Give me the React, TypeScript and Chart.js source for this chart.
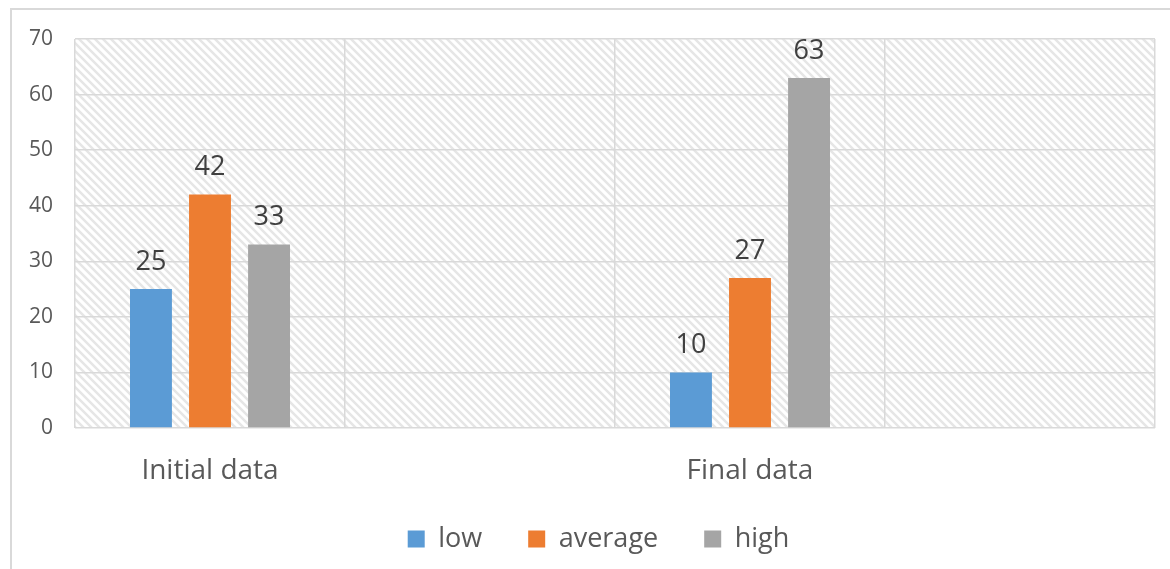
import React, { useEffect, useRef } from "react";
import { Chart, registerables } from "chart.js";

Chart.register(...registerables);

const categories = ["Initial data", "", "Final data", ""];
const lowValues = [25, null, 10, null];
const averageValues = [42, null, 27, null];
const highValues = [33, null, 63, null];
const yTicks = [0, 10, 20, 30, 40, 50, 60, 70];

const FONT = "'Open Sans', 'DejaVu Sans', sans-serif";

function makeHatch(): CanvasPattern | string {
  const c = document.createElement("canvas");
  const s = 8;
  c.width = s;
  c.height = s;
  const g = c.getContext("2d");
  if (!g) return "#ffffff";
  g.fillStyle = "#ffffff";
  g.fillRect(0, 0, s, s);
  g.strokeStyle = "#e6e6e6";
  g.lineWidth = 2.5;
  g.beginPath();
  g.moveTo(-s, 0);
  g.lineTo(s, 2 * s);
  g.moveTo(0, 0);
  g.lineTo(s, s);
  g.moveTo(0, -s);
  g.lineTo(2 * s, s);
  g.stroke();
  const p = g.createPattern(c, "repeat");
  return p || "#ffffff";
}

const hatchPlugin = {
  id: "hatchBg",
  beforeDraw(chart: any) {
    const { ctx, chartArea } = chart;
    if (!chartArea) return;
    ctx.save();
    ctx.fillStyle = makeHatch();
    ctx.fillRect(chartArea.left, chartArea.top, chartArea.right - chartArea.left, chartArea.bottom - chartArea.top);
    ctx.restore();
  },
};

const legendShiftPlugin = {
  id: "legendShift",
  afterLayout(chart: any) {
    const lg = chart.legend;
    if (!lg) return;
    const dx = 11;
    const dy = -6.5;
    lg.left += dx;
    lg.right += dx;
    lg.top += dy;
    lg.bottom += dy;
  },
};

const valueLabelPlugin = {
  id: "valueLabels",
  afterDatasetsDraw(chart: any) {
    const { ctx } = chart;
    ctx.save();
    ctx.font = `27px ${FONT}`;
    ctx.fillStyle = "#404040";
    ctx.textAlign = "center";
    ctx.textBaseline = "middle";
    chart.data.datasets.forEach((ds: any, di: number) => {
      const meta = chart.getDatasetMeta(di);
      meta.data.forEach((el: any, i: number) => {
        const v = ds.data[i];
        if (v === null || v === undefined) return;
        ctx.fillText(String(v), el.x, el.y - 27);
      });
    });
    ctx.restore();
  },
};

export default function App() {
  const ref = useRef<HTMLCanvasElement | null>(null);

  useEffect(() => {
    document.body.style.margin = "0";
    const canvas = ref.current;
    if (!canvas) return;
    const chart = new Chart(canvas, {
      type: "bar",
      data: {
        labels: categories,
        datasets: [
          { label: "low", data: lowValues, backgroundColor: "#5B9BD5" },
          { label: "average", data: averageValues, backgroundColor: "#ED7D31" },
          { label: "high", data: highValues, backgroundColor: "#A5A5A5" },
        ],
      },
      options: {
        animation: false,
        responsive: false,
        maintainAspectRatio: false,
        datasets: {
          bar: {
            categoryPercentage: 0.656,
            barPercentage: 0.71,
          },
        },
        layout: { padding: { top: 39, right: 15, left: 20, bottom: 0 } },
        scales: {
          x: {
            offset: true,
            grid: { offset: true, color: "#d9d9d9", lineWidth: 1.5, drawTicks: false },
            border: { display: false },
            ticks: { font: { family: FONT, size: 28 }, color: "#595959", padding: 26, maxRotation: 0, autoSkip: false },
            afterFit(scale: any) {
              scale.height = 58;
            },
          },
          y: {
            min: 0,
            max: 70,
            afterBuildTicks(scale: any) {
              scale.ticks = yTicks.map((v) => ({ value: v }));
            },
            grid: { color: "#d9d9d9", lineWidth: 1.5, drawTicks: false },
            border: { display: false },
            ticks: { font: { family: FONT, size: 21 }, color: "#595959", padding: 22 },
            afterFit(scale: any) {
              scale.width = 55;
            },
          },
        },
        plugins: {
          legend: {
            position: "bottom",
            labels: {
              font: { family: FONT, size: 27 },
              color: "#595959",
              boxWidth: 17,
              boxHeight: 17,
              padding: 46,
            },
          },
          tooltip: { enabled: false },
        },
      },
      plugins: [hatchPlugin, legendShiftPlugin, valueLabelPlugin],
    });
    return () => chart.destroy();
  }, []);

  return (
    <div style={{ position: "relative", width: 1170, height: 569, overflow: "hidden", background: "#ffffff" }}>
      <div
        style={{
          position: "absolute",
          left: 10,
          top: 8,
          width: 1200,
          height: 600,
          borderLeft: "2px solid #d9d9d9",
          borderTop: "2px solid #d9d9d9",
        }}
      />
      <canvas ref={ref} width={1170} height={569} style={{ position: "absolute", left: 0, top: 0, display: "block" }} />
    </div>
  );
}
